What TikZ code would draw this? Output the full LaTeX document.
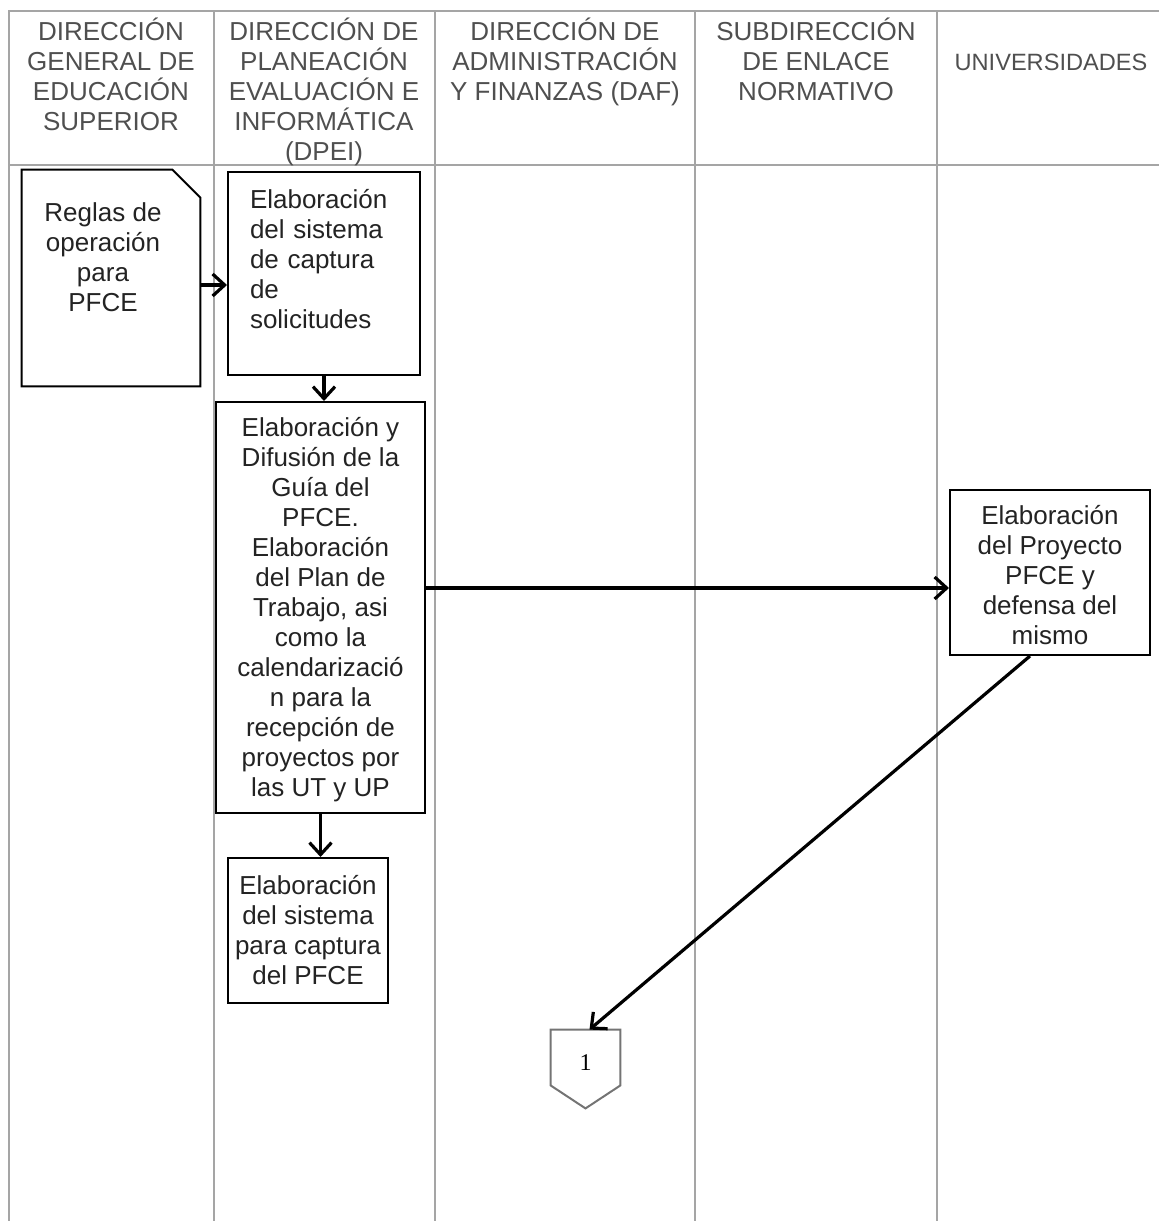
\documentclass[tikz,border=0pt]{standalone}
\usepackage{fontspec}
\setmainfont{Liberation Sans}
\newfontfamily\numfont{Liberation Serif}
\usetikzlibrary{arrows.meta,positioning,calc}
\definecolor{laneline}{RGB}{165,165,165}
\definecolor{inkgray}{RGB}{35,35,35}

\begin{document}
\begin{tikzpicture}[x=0.5pt,y=-0.5pt,
  head/.style={align=center,font=\fontsize{13}{15}\selectfont,text=inkgray!80,anchor=north,inner sep=0pt},
  proc/.style={draw=black,line width=1pt,inner sep=0pt},
  txt/.style={align=center,font=\fontsize{13}{15}\selectfont,text=inkgray,inner sep=0pt},
  flow/.style={-{Straight Barb[length=6pt,width=11pt]},line width=1.6pt}]
\useasboundingbox (0,0) rectangle (1159,1221);
% carriles
\draw[laneline,line width=0.8pt] (9,1221) -- (9,11) -- (1159,11);
\draw[laneline,line width=0.8pt] (9,165) -- (1159,165);
\foreach \lx in {214,435,695,937}
  \draw[laneline,line width=0.8pt] (\lx,11) -- (\lx,1221);
% encabezados
\node[head] (h1) at (111,18) {DIRECCIÓN\\GENERAL DE\\EDUCACIÓN\\SUPERIOR};
\node[head] (h2) at (324,18) {DIRECCIÓN DE\\PLANEACIÓN\\EVALUACIÓN E\\INFORMÁTICA\\(DPEI)};
\node[head] (h3) at (565,18) {DIRECCIÓN DE\\ADMINISTRACIÓN\\Y FINANZAS (DAF)};
\node[head] (h4) at (816,18) {SUBDIRECCIÓN\\DE ENLACE\\NORMATIVO};
\node[head,anchor=center,font=\fontsize{11.8}{14}\selectfont] (h5) at (1051,62) {UNIVERSIDADES};
% actividades
\node[minimum width=89pt,minimum height=108pt,inner sep=0pt,
  label={[txt,xshift=-4pt,yshift=10.5pt]center:Reglas de\\operación\\para\\PFCE}] (regla) at (111,278) {};
\draw[line width=1pt] (regla.south west) -- (regla.north west) -- ([xshift=-14pt]regla.north east)
  -- ([yshift=-14pt]regla.north east) -- (regla.south east) -- cycle;
\node[proc,minimum width=96pt,minimum height=101.5pt,
  label={[txt,align=left,text width=74pt,yshift=7.25pt]center:Elaboración\\del sistema\\de captura\\de\\solicitudes}] (sistema) at (324,273.5) {};
\node[proc,minimum width=104.5pt,minimum height=205.5pt,
  label={[txt,yshift=-1pt]center:Elaboración y\\Difusión de la\\Guía del\\PFCE.\\Elaboración\\del Plan de\\Trabajo, asi\\como la\\calendarizació\\n para la\\recepción de\\proyectos por\\las UT y UP}] (guia) at (320.5,607.5) {};
\node[proc,minimum width=80pt,minimum height=72.5pt,
  label={[txt]center:Elaboración\\del sistema\\para captura\\del PFCE}] (captura) at (308,930.5) {};
\node[proc,minimum width=100pt,minimum height=82.5pt,
  label={[txt,yshift=-1.5pt]center:Elaboración\\del Proyecto\\PFCE y\\defensa del\\mismo}] (proyecto) at (1050,572.5) {};
% conector fuera de pagina
\node[minimum width=34.5pt,minimum height=39pt,inner sep=0pt,
  label={[font=\numfont\fontsize{12}{14}\selectfont,yshift=3pt]center:1}] (conn) at (585.5,1069) {};
\draw[laneline!70!black,line width=1pt] (conn.north west) -- (conn.north east) -- ([yshift=11.5pt]conn.south east)
  -- (conn.south) -- ([yshift=11.5pt]conn.south west) -- cycle;
% flechas
\draw[flow] ([yshift=-3.5pt]regla.east) -- ([yshift=-3.5pt]regla.east -| sistema.west);
\draw[flow] (sistema.south) -- (sistema.south |- guia.north);
\draw[flow] (guia.south) -- (guia.south |- captura.north);
\draw[flow] ([yshift=9.75pt]guia.east) -- ([yshift=9.75pt]guia.east -| proyecto.west);
\draw[flow] ([xshift=-10pt]proyecto.south) -- ([xshift=2pt]conn.north);
\end{tikzpicture}
\end{document}
